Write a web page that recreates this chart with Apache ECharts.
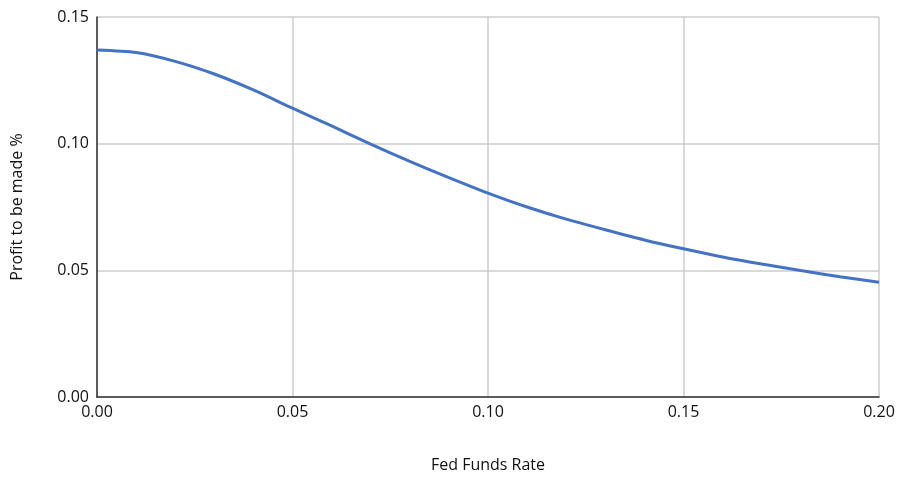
<!DOCTYPE html>
<html><head><meta charset="utf-8">
<script src="https://cdn.jsdelivr.net/npm/echarts@6/dist/echarts.min.js"></script>
<style>html,body{margin:0;padding:0;background:#fff}#c{width:900px;height:478px}</style>
</head><body><div id="c"></div>
<script>
const fedRates = [0,0.01,0.02,0.03,0.04,0.05,0.06,0.07,0.08,0.09,0.10,0.11,0.12,0.13,0.14,0.15,0.16,0.17,0.18,0.19,0.20];
const profit = [0.137,0.1360,0.1325,0.1275,0.1212,0.1140,0.1070,0.0998,0.0930,0.0866,0.0805,0.0750,0.0702,0.0660,0.0620,0.0585,0.0553,0.0525,0.0499,0.0475,0.0453];
const xTicks = [0,0.05,0.10,0.15,0.20];
const yTicks = [0,0.05,0.10,0.15];
const chart = echarts.init(document.getElementById('c'));
const font = 'Open Sans';
chart.setOption({
  animation:false,
  grid:{left:97,right:21,top:17,bottom:80},
  xAxis:{type:'value',min:0,max:0.2,interval:0.05,
    name:'Fed Funds Rate',nameLocation:'middle',nameGap:60,
    nameTextStyle:{fontFamily:font,fontSize:16,color:'#111'},
    axisLine:{show:true,lineStyle:{color:'#333',width:1.5}},
    axisTick:{show:false},
    axisLabel:{fontFamily:font,fontSize:16,color:'#111',margin:7,formatter:v=>v.toFixed(2)},
    splitLine:{show:true,lineStyle:{color:'#cccccc',width:1.5}}},
  yAxis:{type:'value',min:0,max:0.15,interval:0.05,
    name:'Profit to be made %',nameLocation:'middle',nameGap:72,
    nameTextStyle:{fontFamily:font,fontSize:16,color:'#111'},
    axisLine:{show:true,lineStyle:{color:'#333',width:1.5}},
    axisTick:{show:false},
    axisLabel:{fontFamily:font,fontSize:16,color:'#111',margin:8,formatter:v=>v.toFixed(2)},
    splitLine:{show:true,lineStyle:{color:'#cccccc',width:1.5}}},
  series:[{type:'line',data:fedRates.map((x,i)=>[x,profit[i]]),smooth:0.25,
    showSymbol:false,lineStyle:{color:'#4472C4',width:3}}]
});
</script></body></html>
